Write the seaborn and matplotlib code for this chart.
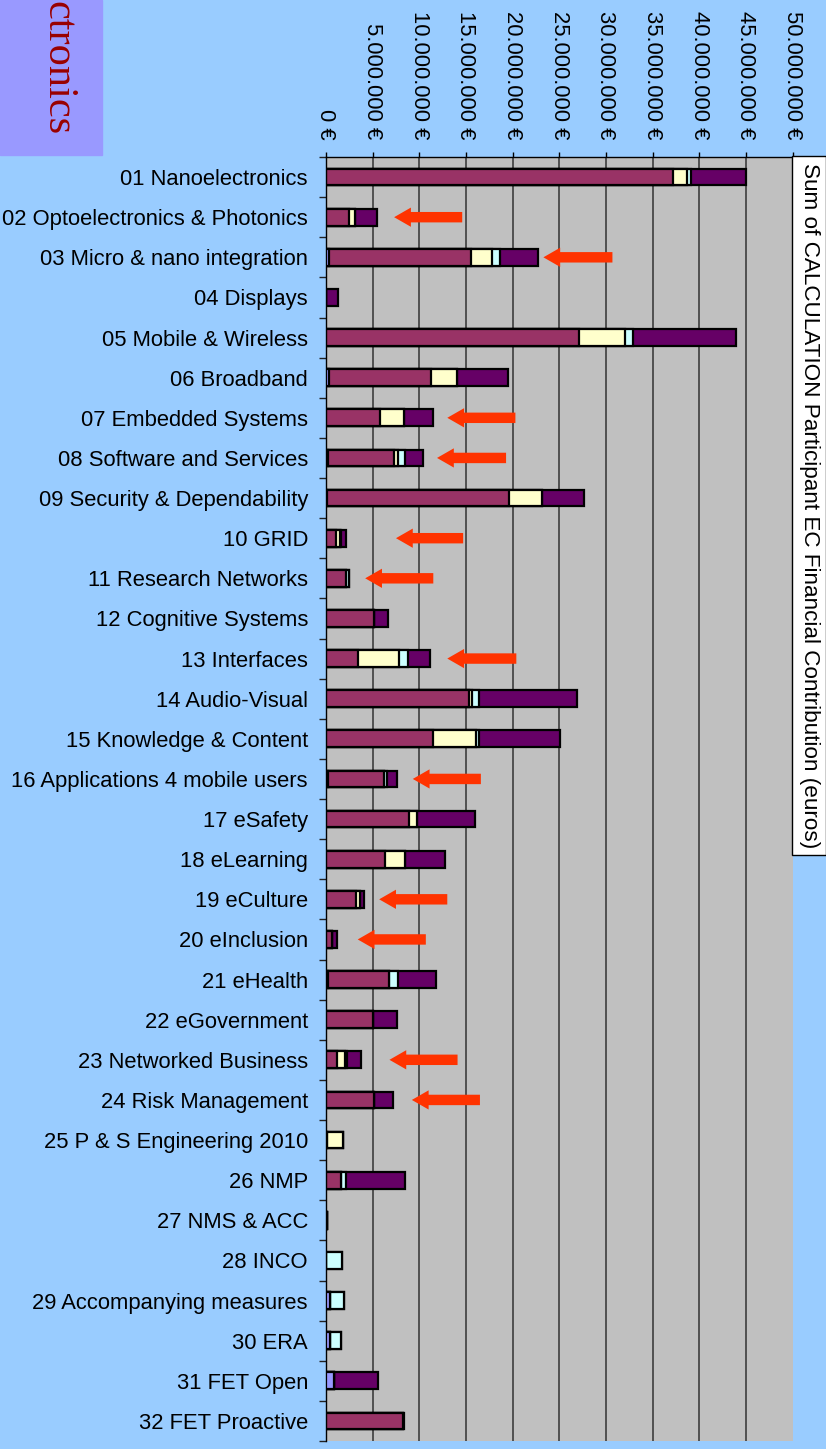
import numpy as np
import matplotlib
matplotlib.use('Agg')
import matplotlib.pyplot as plt
import matplotlib.ticker as mticker
from matplotlib.patches import Rectangle
import seaborn as sns

# categories (top to bottom)
themes = ['01 Nanoelectronics', '02 Optoelectronics & Photonics', '03 Micro & nano integration',
          '04 Displays', '05 Mobile & Wireless', '06 Broadband', '07 Embedded Systems',
          '08 Software and Services', '09 Security & Dependability', '10 GRID',
          '11 Research Networks', '12 Cognitive Systems', '13 Interfaces', '14 Audio-Visual',
          '15 Knowledge & Content', '16 Applications 4 mobile users', '17 eSafety', '18 eLearning',
          '19 eCulture', '20 eInclusion', '21 eHealth', '22 eGovernment', '23 Networked Business',
          '24 Risk Management', '25 P & S Engineering 2010', '26 NMP', '27 NMS & ACC', '28 INCO',
          '29 Accompanying measures', '30 ERA', '31 FET Open', '32 FET Proactive']

# EC contribution per series, in million euros
s_lavender = [0, 0, 0.3, 0, 0, 0.3, 0, 0.2, 0.15, 0, 0, 0, 0, 0, 0, 0.2,
              0, 0, 0, 0, 0.2, 0, 0, 0, 0.1, 0, 0.15, 0, 0.4, 0.4, 0.85, 0]
s_maroon = [37.2, 2.5, 15.2, 0, 27.1, 11.0, 5.8, 7.1, 19.45, 1.1, 2.1, 5.15, 3.4, 15.3, 11.5, 6.0,
            8.9, 6.3, 3.2, 0.6, 6.5, 5.0, 1.2, 5.1, 0, 1.6, 0, 0, 0, 0, 0, 8.2]
s_yellow = [1.5, 0.6, 2.25, 0, 4.9, 2.7, 2.6, 0.4, 3.6, 0.35, 0, 0, 4.4, 0.3, 4.6, 0,
            0.85, 2.15, 0.4, 0, 0, 0, 0.8, 0, 1.7, 0, 0, 0, 0, 0, 0, 0]
s_cyan = [0.4, 0, 0.85, 0, 0.9, 0, 0, 0.75, 0, 0.15, 0.35, 0, 0.95, 0.75, 0.3, 0.3,
          0, 0, 0, 0, 1.05, 0, 0.2, 0, 0, 0.5, 0, 1.7, 1.5, 1.2, 0, 0]
s_purple = [5.9, 2.4, 4.1, 1.3, 11.0, 5.5, 3.1, 1.9, 4.5, 0.5, 0, 1.5, 2.45, 10.5, 8.7, 1.1,
            6.2, 4.3, 0.45, 0.55, 4.05, 2.6, 1.6, 2.1, 0, 6.4, 0, 0, 0, 0, 4.7, 0.2]

series = [s_lavender, s_maroon, s_yellow, s_cyan, s_purple]
colors = ['#9999FF', '#993366', '#FFFFCC', '#CCFFFF', '#660066']

# red arrows: rows that are marked, and where the arrow head / tail sit (million euros)
arrow_rows = ['02 Optoelectronics & Photonics', '03 Micro & nano integration', '07 Embedded Systems',
              '08 Software and Services', '10 GRID', '11 Research Networks', '13 Interfaces',
              '16 Applications 4 mobile users', '19 eCulture', '20 eInclusion',
              '23 Networked Business', '24 Risk Management']
arrow_head = [7.3, 23.3, 13.0, 11.9, 7.5, 4.2, 13.0, 9.3, 5.7, 3.4, 6.8, 9.2]
arrow_tail = [14.6, 30.7, 20.3, 19.3, 14.7, 11.5, 20.4, 16.6, 13.0, 10.7, 14.1, 16.5]

bg = '#99CCFF'
fig = plt.figure(figsize=(8.26, 14.49), dpi=100, facecolor=bg)
plt.rcParams['font.family'] = ['Liberation Sans', 'DejaVu Sans']
ax = fig.add_axes([326/826, 8/1449, 466.5/826, 1284/1449])
ax.set_facecolor('#C0C0C0')

# stacked bars: draw cumulative totals from the outermost series inwards
cum = np.cumsum(np.array(series), axis=0)
for i in range(len(series) - 1, -1, -1):
    sns.barplot(x=cum[i], y=themes, orient='h', color=colors[i], saturation=1,
                edgecolor='black', linewidth=1.6, width=0.42, errorbar=None, ax=ax, zorder=3)

for name, h, t in zip(arrow_rows, arrow_head, arrow_tail):
    yy = themes.index(name)
    ax.arrow(t, yy, h - t, 0, width=0.26, head_width=0.48, head_length=1.8,
             length_includes_head=True, color='#FF3300', lw=0, zorder=4)

ax.set_xlim(0, 50)
ax.set_ylim(31.5, -0.5)
ax.set_xlabel('')
ax.set_ylabel('')
ax.xaxis.tick_top()
ax.xaxis.set_major_locator(mticker.MultipleLocator(5))
ax.xaxis.set_major_formatter(mticker.FuncFormatter(
    lambda v, p: '{:,} €'.format(int(round(v * 1e6))).replace(',', '.')))
ax.tick_params(axis='x', labelrotation=-90, labelsize=15.8, length=3.6, width=1, pad=9,
               color='black')
ax.tick_params(axis='y', which='major', length=0, labelsize=15.8, pad=13)
ax.set_yticks(np.arange(-0.5, 32, 1), minor=True)
ax.tick_params(axis='y', which='minor', length=5, width=1, color='#222222')

# vertical gridlines inside the plot (none on the 50M edge)
ax.grid(False)
ax.vlines(np.arange(5, 50, 5), -0.5, 31.5, color='#333333', lw=1.1, zorder=0)
for side in ['right', 'bottom']:
    ax.spines[side].set_visible(False)
for side in ['left', 'top']:
    ax.spines[side].set_color('black')
    ax.spines[side].set_linewidth(1)

# box in the top-left corner
fig.patches.append(Rectangle((0, 1 - 155/1449), 102/826, 155/1449,
                             transform=fig.transFigure, color='#9999FF', zorder=0))
fig.text(58/826, 1 - 1/1449, 'ctronics', rotation=-90, ha='center', va='top',
         fontsize=30.5, family=['Liberation Serif', 'DejaVu Serif'], color='#990000')

# series field label on the right
fig.text(809/826, 1 - 163/1449,
         'Sum of CALCULATION Participant EC Financial Contribution (euros)',
         rotation=-90, ha='center', va='top', fontsize=16.2,
         bbox=dict(boxstyle='square,pad=0.3', fc='white', ec='black', lw=1))

fig.savefig('out.png', dpi=100, facecolor=bg)
